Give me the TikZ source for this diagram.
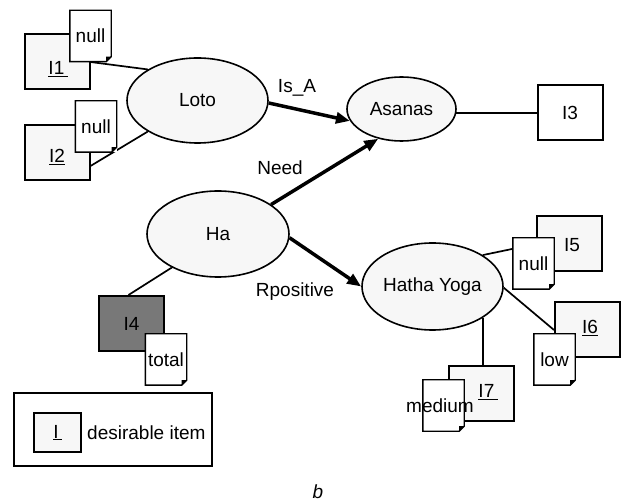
\documentclass[tikz,border=0pt]{standalone}
\usepackage{fontspec}
\setmainfont{Liberation Sans}
\usetikzlibrary{arrows.meta,shapes.geometric,calc}
\definecolor{lightfill}{RGB}{247,247,247}
\definecolor{darkfill}{RGB}{120,120,120}
\newcommand\mydogear[1]{%
  \draw[notebd] (#1.north west) -- (#1.north east) -- ([yshift=5pt]#1.south east) -- ([xshift=-5pt]#1.south east) -- (#1.south west) -- cycle;
  \fill ([yshift=5pt]#1.south east) -- ([xshift=-5pt]#1.south east) -- ([xshift=-5pt,yshift=5pt]#1.south east) -- cycle;}
\begin{document}
\begin{tikzpicture}[x=1pt,y=-1pt,
  every node/.style={font=\fontsize{19}{22}\selectfont, inner sep=0pt},
  concept/.style={ellipse, draw, line width=1.6pt, fill=lightfill},
  itembox/.style={rectangle, draw, line width=2pt, fill=lightfill, minimum width=65pt, minimum height=55pt},
  notebg/.style={rectangle, fill=white, minimum width=41pt, minimum height=51pt},
  notebd/.style={line width=1.4pt, line join=miter},
  link/.style={line width=1.7pt},
  rel/.style={line width=3.5pt, -{Triangle[length=14pt,width=11pt]}},
]
\useasboundingbox (0,0) rectangle (621,502);

% concepts
\node[concept, minimum width=141pt, minimum height=85pt] (loto) at (197.5,100.5) {Loto};
\node[concept, minimum width=109pt, minimum height=64pt] (asanas) at (401.5,109) {Asanas};
\node[concept, minimum width=142pt, minimum height=86pt] (ha) at (218,234) {Ha};
\node[concept, minimum width=141pt, minimum height=87pt] (hy) at (432.5,286.5) {Hatha Yoga};

% item boxes
\node[itembox] (i1) at (57,62) {};
\node (i1t) at (58,69) {\underline{I1\,}};
\node[itembox] (i2) at (57,153) {};
\node (i2t) at (57,157) {\underline{I2}};
\node[itembox, fill=white] (i3) at (570,113) {I3};
\node[itembox, fill=darkfill] (i4) at (131.5,323.5) {I4};
\node[itembox] (i5) at (569.5,244) {};
\node (i5t) at (572,245) {I5};
\node[itembox] (i6) at (587.5,330) {};
\node (i6t) at (590,328) {\underline{I6}};
\node[itembox] (i7) at (481.5,393.5) {};
\node (i7t) at (488,392) {\underline{I7\,}};

% thin links
\draw[link] (i1.east) -- (loto.148);
\draw[link] ([yshift=-13pt]i2.east) -- (loto.212);
\draw[link] ([xshift=-1pt]asanas.east |- i3.west) -- (i3.west);
\draw[link] (ha.216) -- ([xshift=-3pt]i4.north);
\draw[link] (hy.32) -- (i5.west);
\draw[link] (hy.-1) -- (i6.west);
\draw[link] (hy.-32) -- (hy.-32 |- i7.north);

% relations
\draw[rel] (loto.-2) -- (asanas.193);
\draw[rel] (ha.29) -- (asanas.232);
\draw[rel] (ha.-3) -- (hy.west);
\node (isa) at (297,88) {Is\_A};
\node (need) at (280,168) {Need};
\node (rpos) at (295,292) {Rpositive};

% notes
\node[notebg] (n1) at (90.5,36) {null};
\mydogear{n1}
\node[notebg] (n2) at (96,126.5) {null};
\mydogear{n2}
\node[notebg] (n5) at (533.5,263.5) {null};
\mydogear{n5}
\node[notebg] (n6) at (554.5,359.5) {low};
\mydogear{n6}
\node[notebg] (n4) at (166,359.5) {total};
\mydogear{n4}
\node[notebg] (n7) at (443.5,405.5) {};
\mydogear{n7}
\node (n7t) at (440,406) {medium};

% legend
\node[draw, line width=1.4pt, fill=white, minimum width=198pt, minimum height=73pt] (legend) at (113,429.5) {};
\node[itembox, minimum width=47pt, minimum height=39pt] (legitem) at (57.5,432.5) {\underline{I\,}};
\node[anchor=west] (legtext) at (87,433) {desirable item};

% caption
\node (caption) at (318,492) {\itshape b};
\end{tikzpicture}
\end{document}
